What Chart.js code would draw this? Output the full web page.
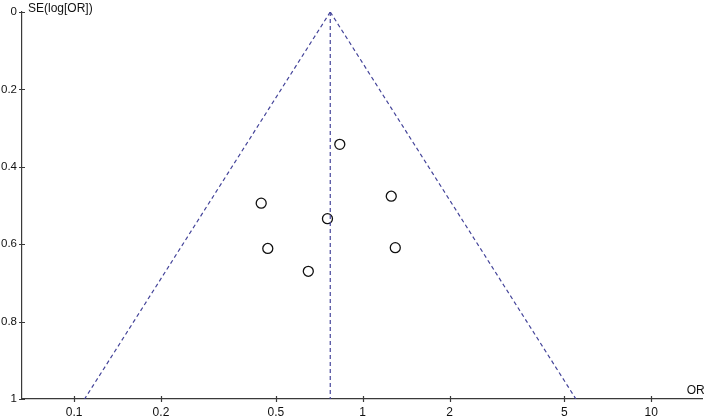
<!DOCTYPE html>
<html>
<head>
<meta charset="utf-8">
<script src="https://cdn.jsdelivr.net/npm/chart.js@4"></script>
<style>
    html, body { margin: 0; padding: 0; background: #fff; }
    #wrap { width: 709px; height: 417px; }
</style>
</head>
<body>
<div id="wrap"><canvas id="funnelChart"></canvas></div>
<script>
// study estimates
const studyOR = [0.833, 0.445, 1.256, 0.755, 0.469, 1.297, 0.648];
const studySE = [0.342, 0.494, 0.476, 0.534, 0.611, 0.609, 0.670];

// pooled estimate (apex of the funnel)
const pooledOR = 0.772;
const funnelSE = [0, 1];

const xTicks = [0.1, 0.2, 0.5, 1, 2, 5, 10];
const yTicks = [0, 0.2, 0.4, 0.6, 0.8, 1];

const xMin = 0.066;
const xMax = 15.07;

const lineColor = '#45459a';
const axisColor = '#3a3a3a';

function funnelSide(sign) {
    // 95% pseudo-confidence limits on log scale
    return funnelSE.map(se => ({ x: Math.exp(Math.log(pooledOR) + sign * 1.96 * se), y: se }));
}

const points = studyOR.map((or, i) => ({ x: or, y: studySE[i] }));

const dashed = {
    showLine: true,
    fill: false,
    borderColor: lineColor,
    borderWidth: 1.2,
    borderDash: [4, 3],
    pointRadius: 0,
    pointHoverRadius: 0
};

// tick marks crossing the axis lines, plus axis titles
const axisDecor = {
    id: 'axisDecor',
    afterDraw(chart) {
        const ctx = chart.ctx;
        const xs = chart.scales.x;
        const ys = chart.scales.y;
        const area = chart.chartArea;
        ctx.save();
        ctx.strokeStyle = axisColor;
        ctx.lineWidth = 1.2;
        ctx.beginPath();
        xTicks.forEach(v => {
            const px = Math.round(xs.getPixelForValue(v)) + 0.5;
            ctx.moveTo(px, area.bottom - 3);
            ctx.lineTo(px, area.bottom + 3);
        });
        yTicks.forEach(v => {
            const py = Math.round(ys.getPixelForValue(v)) + 0.5;
            ctx.moveTo(area.left - 3, py);
            ctx.lineTo(area.left + 3, py);
        });
        ctx.stroke();

        ctx.fillStyle = '#111';
        ctx.font = '12px "Liberation Sans", Arial, sans-serif';
        ctx.textBaseline = 'alphabetic';
        ctx.textAlign = 'left';
        ctx.fillText('SE(log[OR])', area.left + 6, area.top + 0);
        ctx.textAlign = 'right';
        ctx.fillText('OR', area.right + 2, area.bottom - 5);
        ctx.restore();
    }
};

const ctx = document.getElementById('funnelChart').getContext('2d');
const myChart = new Chart(ctx, {
    type: 'scatter',
    data: {
        datasets: [
            Object.assign({ label: 'left', data: funnelSide(-1) }, dashed),
            Object.assign({ label: 'right', data: funnelSide(1) }, dashed),
            Object.assign({ label: 'pooled', data: funnelSE.map(se => ({ x: pooledOR, y: se })) }, dashed),
            {
                label: 'studies',
                data: points,
                showLine: false,
                pointRadius: 5,
                pointBorderWidth: 1.3,
                pointBorderColor: '#111',
                pointBackgroundColor: '#fff'
            }
        ]
    },
    options: {
        responsive: true,
        maintainAspectRatio: false,
        animation: false,
        layout: { padding: { top: 12, right: 3, left: 0, bottom: 0 } },
        plugins: {
            legend: { display: false },
            tooltip: { enabled: false }
        },
        scales: {
            x: {
                type: 'logarithmic',
                min: xMin,
                max: xMax,
                afterBuildTicks: scale => { scale.ticks = xTicks.map(v => ({ value: v })); },
                afterFit: scale => { scale.height = 18; },
                grid: { display: false, drawTicks: false },
                border: { display: true, color: axisColor, width: 1.2 },
                ticks: {
                    autoSkip: false,
                    maxRotation: 0,
                    padding: 6,
                    color: '#111',
                    font: { family: '"Liberation Sans", Arial, sans-serif', size: 12 },
                    callback: v => String(v)
                }
            },
            y: {
                type: 'linear',
                reverse: true,
                min: 0,
                max: 1,
                afterBuildTicks: scale => { scale.ticks = yTicks.map(v => ({ value: v })); },
                afterFit: scale => { scale.width = 22; },
                grid: { display: false, drawTicks: false },
                border: { display: true, color: axisColor, width: 1.2 },
                ticks: {
                    padding: 5,
                    color: '#111',
                    font: { family: '"Liberation Sans", Arial, sans-serif', size: 11.5 },
                    callback: v => String(v)
                }
            }
        }
    },
    plugins: [axisDecor]
});
</script>
</body>
</html>
